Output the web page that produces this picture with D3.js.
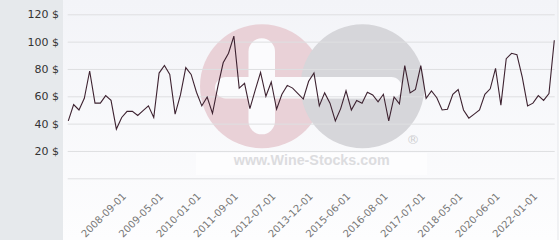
<!DOCTYPE html>
<html>
<head>
<meta charset="utf-8">
<script src="https://cdn.jsdelivr.net/npm/d3@7"></script>
<style>
  body { margin: 0; background: #fff; }
  svg { display: block; }
  svg text { font-family: "DejaVu Sans", Verdana, sans-serif; }
  svg text.wm-text { font-family: "Liberation Sans", Arial, sans-serif; }
</style>
</head>
<body>
<div id="chart"></div>
<script>
// categories (dates), only every 7th one is labelled on the axis
const dates = [
  "2007-10-01", "2007-11-01", "2007-12-01", "2008-01-01", "2008-02-01", "2008-03-01", "2008-04-01", "2008-05-01", "2008-06-01", "2008-07-01",
  "2008-09-01", "2008-10-01", "2008-11-01", "2008-12-01", "2009-01-01", "2009-02-01", "2009-03-01",
  "2009-05-01", "2009-06-01", "2009-07-01", "2009-08-01", "2009-09-01", "2009-10-01", "2009-11-01",
  "2010-01-01", "2010-03-01", "2010-05-01", "2010-08-01", "2010-11-01", "2011-02-01", "2011-05-01",
  "2011-09-01", "2011-10-01", "2011-11-01", "2012-01-01", "2012-02-01", "2012-04-01", "2012-05-01",
  "2012-07-01", "2012-09-01", "2012-11-01", "2013-02-01", "2013-05-01", "2013-07-01", "2013-10-01",
  "2013-12-01", "2014-02-01", "2014-05-01", "2014-08-01", "2014-11-01", "2015-01-01", "2015-04-01",
  "2015-06-01", "2015-08-01", "2015-10-01", "2015-12-01", "2016-02-01", "2016-04-01", "2016-06-01",
  "2016-08-01", "2016-09-01", "2016-11-01", "2017-01-01", "2017-02-01", "2017-04-01", "2017-05-01",
  "2017-07-01", "2017-08-01", "2017-10-01", "2017-11-01", "2018-01-01", "2018-02-01", "2018-04-01",
  "2018-05-01", "2018-08-01", "2018-11-01", "2019-03-01", "2019-07-01", "2019-10-01", "2020-02-01",
  "2020-06-01", "2020-08-01", "2020-10-01", "2021-01-01", "2021-03-01", "2021-06-01", "2021-09-01",
  "2022-01-01", "2022-03-01", "2022-05-01", "2022-08-01", "2022-11-01"
];

// price in $
const prices = [
  42, 54, 50, 58.5, 78.5, 55, 55, 60.5, 57, 36,
  44.5, 49, 49, 46, 49.5, 53, 44.5,
  77, 82.5, 76, 47, 61, 81, 76,
  63, 53, 59.5, 47.5, 67, 84.5, 91.5,
  104, 66, 69.5, 51, 64.5, 77.5, 60,
  70.5, 50.5, 61.5, 68, 66, 62, 58,
  71, 77, 53, 62.5, 55, 42, 51,
  64, 50, 57, 55, 63, 61, 56,
  61.5, 42, 59.5, 54.5, 82.5, 62.5, 65,
  82.5, 58.5, 64, 59, 50, 50.5, 61.5,
  65, 50, 44, 47, 50, 61.5, 65.5,
  80.5, 53.5, 87.5, 91.5, 90.5, 74, 53,
  55, 60.5, 57, 62, 101
];

const yTicks = [0, 20, 40, 60, 80, 100, 120];
const labelEvery = 7;
const firstLabel = 10;

const width = 560, height = 240;
const panelW = 63;
const plot = {left: 68.3, right: 554.3, top: 14.3, bottom: 178.3};

const svg = d3.select('#chart').append('svg')
  .attr('width', width)
  .attr('height', height);

const defs = svg.append('defs');
const grad = defs.append('linearGradient')
  .attr('id', 'bg')
  .attr('x1', 0).attr('y1', 0).attr('x2', 0).attr('y2', 1);
grad.append('stop').attr('offset', '0%').attr('stop-color', '#f3f4f8');
grad.append('stop').attr('offset', '100%').attr('stop-color', '#fdfdfe');

// backgrounds
svg.append('rect')
  .attr('x', panelW).attr('y', 0)
  .attr('width', width - panelW - 2).attr('height', height)
  .attr('fill', 'url(#bg)');
svg.append('rect')
  .attr('x', 0).attr('y', 0)
  .attr('width', panelW).attr('height', height)
  .attr('fill', '#e6e9ec');
svg.append('line')
  .attr('x1', width - 2).attr('x2', width - 2)
  .attr('y1', 0).attr('y2', height)
  .attr('stroke', '#e4e6ea');

// watermark logo
const wm = svg.append('g').attr('class', 'watermark');
wm.append('circle').attr('cx', 262).attr('cy', 86.3).attr('r', 62).attr('fill', '#e9d1d7');
wm.append('circle').attr('cx', 362.5).attr('cy', 86.3).attr('r', 62).attr('fill', '#d6d6da');
wm.append('rect').attr('x', 215).attr('y', 77).attr('width', 187).attr('height', 21.5)
  .attr('rx', 10.75).attr('fill', '#fbfbfd');
wm.append('rect').attr('x', 248.5).attr('y', 38.3).attr('width', 26.5).attr('height', 96)
  .attr('rx', 13.25).attr('fill', '#fbfbfd');
wm.append('text').attr('x', 413).attr('y', 143.5)
  .attr('text-anchor', 'middle')
  .attr('font-size', 13)
  .attr('fill', '#cfcfd2')
  .text('®');
wm.append('rect').attr('x', 196).attr('y', 153).attr('width', 231).attr('height', 22)
  .attr('fill', '#ffffff').attr('opacity', 0.6);
wm.append('text').attr('class', 'wm-text')
  .attr('x', 311.7).attr('y', 165)
  .attr('text-anchor', 'middle')
  .attr('font-weight', 'bold')
  .attr('font-size', 14.3)
  .attr('fill', '#dcdcdf')
  .text('www.Wine-Stocks.com');

// scales
const x = d3.scalePoint()
  .domain(dates)
  .range([plot.left, plot.right]);

const y = d3.scaleLinear()
  .domain([0, 120])
  .range([plot.bottom, plot.top]);

// grid + y labels
const yAxis = d3.axisLeft(y)
  .tickValues(yTicks)
  .tickSize(-(plot.right + 1 - plot.left))
  .tickPadding(8)
  .tickFormat(d => d === 0 ? '' : d + ' $');

svg.append('g')
  .attr('transform', `translate(${plot.left - 0.6},0)`)
  .call(yAxis)
  .attr('font-family', null)
  .attr('font-size', null)
  .call(g => g.select('.domain').remove())
  .call(g => g.selectAll('.tick line').attr('stroke', '#dedfe1').attr('stroke-width', 1))
  .call(g => g.selectAll('.tick text')
    .attr('x', panelW - 3.5 - plot.left)
    .attr('fill', '#333')
    .attr('font-size', 11));

// x labels
const labelled = dates.filter((d, i) => i >= firstLabel && (i - firstLabel) % labelEvery === 0);

svg.append('g')
  .selectAll('text')
  .data(labelled)
  .join('text')
  .attr('transform', d => `translate(${x(d) + 5},197) rotate(-45)`)
  .attr('text-anchor', 'end')
  .attr('font-size', 10)
  .attr('fill', '#777')
  .text(d => d);

// price line
const line = d3.line()
  .x((d, i) => x(dates[i]))
  .y(d => y(d));

svg.append('path')
  .datum(prices)
  .attr('fill', 'none')
  .attr('stroke', '#3d2230')
  .attr('stroke-width', 1.1)
  .attr('stroke-linejoin', 'miter')
  .attr('d', line);
</script>
</body>
</html>
